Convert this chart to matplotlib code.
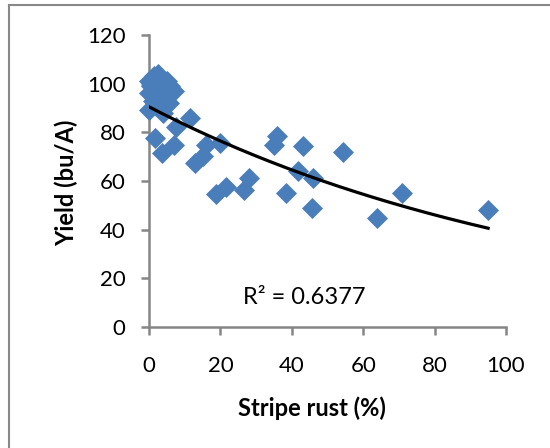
import numpy as np
import matplotlib
matplotlib.use("Agg")
import matplotlib.pyplot as plt
from matplotlib.lines import Line2D

# Data
rust = [0, 0, 0.5, 1, 1.5, 2.5, 3, 3.5, 4, 5, 5.5, 6, 7, 2, 0, 5.5, 4,
        1.7, 3.6, 6.9, 7.7, 11.5, 12.9, 15.2, 16.1, 20, 18.8, 21.6, 26.7,
        28.1, 35.1, 35.9, 38.4, 43.2, 41.8, 46, 45.6, 54.4, 64, 70.8, 95]
yield_ = [101, 96, 99, 93, 103, 104, 98, 100, 95, 101, 97, 99, 97, 91, 89, 92, 88,
          77.7, 71.6, 74.9, 82.3, 85.8, 67.4, 70.1, 74.9, 75.6, 54.8, 57.6, 56.3,
          61.1, 74.9, 78.6, 55, 74.2, 64, 61.1, 48.8, 72.1, 44.7, 55, 48.2]

# Exponential trendline y = a*exp(b*x)
trend_a = 90.5
trend_b = -0.00844
r2_label = "R² = 0.6377"

x_ticks = [0, 20, 40, 60, 80, 100]
y_ticks = [0, 20, 40, 60, 80, 100, 120]

plt.rcParams['font.family'] = ['Lato', 'DejaVu Sans']

fig = plt.figure(figsize=(5.5, 4.48), dpi=100)
ax = fig.add_axes([149/550, 1-327/448, (506-149)/550, (327-35)/448])

ax.scatter(rust, yield_, marker='D', s=115, color='#4A7EBB', linewidths=0, zorder=3, clip_on=False)

xs = np.linspace(min(rust), max(rust), 200)
ax.plot(xs, trend_a*np.exp(trend_b*xs), color='black', lw=2.3, zorder=4)

ax.set_xlim(0, 100)
ax.set_ylim(0, 120)
ax.set_xticks(x_ticks)
ax.set_yticks(y_ticks)

for s in ['top', 'right']:
    ax.spines[s].set_visible(False)
for s in ['left', 'bottom']:
    ax.spines[s].set_color('#868686')
    ax.spines[s].set_linewidth(1.8)

ax.tick_params(axis='both', colors='#868686', width=1.8, length=6, labelcolor='black', labelsize=16)
ax.tick_params(axis='x', pad=15)
ax.tick_params(axis='y', pad=11)

ax.text((312-149)/357, (327-408)/292, 'Stripe rust (%)', transform=ax.transAxes,
        fontsize=17, fontweight='bold', ha='center', va='center')
ax.text((66-149)/357, (327-183)/292, 'Yield (bu/A)', transform=ax.transAxes, rotation=90,
        fontsize=17, fontweight='bold', ha='center', va='center')

ax.text(43.4, 12.3, r2_label, fontsize=17, ha='center', va='center')

# chart-area border (top and left visible)
fig.add_artist(Line2D([9/550, 9/550], [0, 1-5/448], transform=fig.transFigure, color='#888888', lw=1.5))
fig.add_artist(Line2D([9/550, 1], [1-5/448, 1-5/448], transform=fig.transFigure, color='#888888', lw=1.5))

fig.savefig('out.png', dpi=100)
